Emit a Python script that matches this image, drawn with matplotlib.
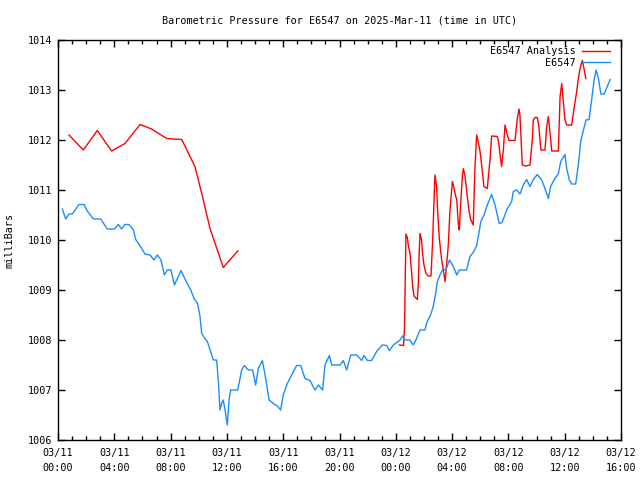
import matplotlib
matplotlib.use("Agg")
import matplotlib.pyplot as plt
from matplotlib.ticker import MultipleLocator

# Hours since 2025-03-11 00:00 UTC
obs_hours = [0.31, 0.55, 0.78, 1.02, 1.49, 1.85, 2.08, 2.51, 3.03, 3.5, 4.0, 4.29, 4.52, 4.76, 5.04,
             5.35, 5.52, 5.75, 6.18, 6.54, 6.82, 7.06, 7.32, 7.56, 7.77, 8.03, 8.27, 8.74, 9.02, 9.43,
             9.68, 9.92, 10.09, 10.21, 10.44, 10.61, 10.92, 11.04, 11.27, 11.39, 11.51, 11.63, 11.74,
             11.87, 12.03, 12.15, 12.27, 12.77, 12.93, 13.05, 13.24, 13.52, 13.83, 14.04, 14.23, 14.52,
             14.71, 15.0, 15.3, 15.58, 15.82, 16.0, 16.29, 16.6, 16.95, 17.24, 17.55, 17.9, 18.26, 18.5,
             18.8, 18.97, 19.28, 19.45, 20.04, 20.27, 20.51, 20.8, 21.22, 21.58, 21.74, 21.98, 22.28,
             22.64, 23.04, 23.35, 23.54, 23.83, 24.3, 24.48, 24.65, 25.0, 25.24, 25.48, 25.72, 26.07,
             26.23, 26.47, 26.66, 26.83, 26.95, 27.14, 27.33, 27.57, 27.81, 28.09, 28.33, 28.51, 29.03,
             29.27, 29.5, 29.74, 29.9, 30.04, 30.27, 30.5, 30.81, 31.05, 31.35, 31.55, 31.88, 32.23,
             32.35, 32.59, 32.82, 33.06, 33.3, 33.53, 33.77, 34.05, 34.37, 34.6, 34.84, 35.0, 35.24,
             35.55, 35.72, 36.02, 36.14, 36.33, 36.5, 36.78, 36.97, 37.14, 37.33, 37.52, 37.73, 37.88,
             38.09, 38.23, 38.4, 38.57, 38.8, 39.23]
obs_mb = [1010.62, 1010.42, 1010.52, 1010.52, 1010.71, 1010.71, 1010.58, 1010.42, 1010.42, 1010.22,
          1010.22, 1010.31, 1010.22, 1010.31, 1010.31, 1010.21, 1010.01, 1009.92, 1009.72, 1009.7,
          1009.6, 1009.7, 1009.6, 1009.3, 1009.4, 1009.4, 1009.1, 1009.39, 1009.22, 1009.0, 1008.82,
          1008.73, 1008.47, 1008.13, 1008.03, 1007.97, 1007.7, 1007.6, 1007.6, 1007.2, 1006.6, 1006.73,
          1006.8, 1006.6, 1006.3, 1006.8, 1007.0, 1007.0, 1007.23, 1007.4, 1007.49, 1007.4, 1007.4,
          1007.1, 1007.43, 1007.59, 1007.3, 1006.8, 1006.73, 1006.68, 1006.6, 1006.9, 1007.13, 1007.3,
          1007.49, 1007.49, 1007.23, 1007.19, 1007.0, 1007.1, 1007.0, 1007.5, 1007.69, 1007.5, 1007.5,
          1007.59, 1007.4, 1007.7, 1007.7, 1007.59, 1007.69, 1007.59, 1007.59, 1007.77, 1007.9,
          1007.89, 1007.79, 1007.9, 1008.0, 1008.08, 1008.0, 1008.0, 1007.9, 1008.03, 1008.2, 1008.2,
          1008.37, 1008.5, 1008.67, 1008.93, 1009.17, 1009.3, 1009.41, 1009.41, 1009.6, 1009.47,
          1009.3, 1009.4, 1009.4, 1009.67, 1009.75, 1009.88, 1010.13, 1010.37, 1010.5, 1010.7,
          1010.91, 1010.7, 1010.33, 1010.35, 1010.6, 1010.77, 1010.97, 1011.0, 1010.92, 1011.1,
          1011.21, 1011.07, 1011.21, 1011.31, 1011.2, 1011.03, 1010.83, 1011.07, 1011.2, 1011.33,
          1011.57, 1011.71, 1011.43, 1011.2, 1011.12, 1011.12, 1011.5, 1011.97, 1012.2, 1012.4,
          1012.41, 1012.73, 1013.2, 1013.4, 1013.23, 1012.92, 1012.92, 1013.21]

ana1_hours = [0.78, 1.8, 2.79, 3.81, 4.76, 5.83, 6.65, 7.72, 8.79, 9.73, 10.21, 10.8, 11.74, 12.77]
ana1_mb = [1012.1, 1011.8, 1012.19, 1011.78, 1011.93, 1012.31, 1012.22, 1012.03, 1012.01, 1011.47,
           1010.93, 1010.23, 1009.45, 1009.78]

ana2_hours = [24.26, 24.55, 24.62, 24.72, 24.82, 24.9, 25.01, 25.13, 25.2, 25.29, 25.53, 25.6, 25.66,
              25.72, 25.83, 25.91, 26.0, 26.15, 26.31, 26.5, 26.62, 26.71, 26.78, 26.9, 26.97, 27.09,
              27.26, 27.38, 27.5, 27.62, 27.73, 27.85, 28.02, 28.09, 28.21, 28.33, 28.44, 28.51, 28.61,
              28.73, 28.8, 28.92, 29.08, 29.22, 29.33, 29.5, 29.62, 29.74, 29.85, 29.97, 30.14, 30.26,
              30.5, 30.69, 30.81, 31.21, 31.3, 31.45, 31.52, 31.64, 31.76, 31.92, 32.05, 32.47, 32.62,
              32.75, 32.82, 32.9, 32.99, 33.25, 33.53, 33.7, 33.77, 33.89, 34.05, 34.15, 34.31, 34.6,
              34.72, 34.84, 34.96, 35.08, 35.55, 35.67, 35.79, 35.9, 36.02, 36.14, 36.5, 36.61, 36.85,
              36.97, 37.09, 37.25, 37.37, 37.5]
ana2_mb = [1007.9, 1007.89, 1008.25, 1010.12, 1010.05, 1009.87, 1009.73, 1009.33, 1009.07, 1008.88,
           1008.81, 1009.13, 1009.73, 1010.13, 1010.0, 1009.7, 1009.5, 1009.33, 1009.28, 1009.28,
           1010.0, 1010.74, 1011.3, 1011.07, 1010.6, 1010.03, 1009.6, 1009.4, 1009.17, 1009.53, 1009.9,
           1010.6, 1011.17, 1011.1, 1010.93, 1010.8, 1010.33, 1010.2, 1010.73, 1011.27, 1011.43,
           1011.27, 1010.87, 1010.55, 1010.4, 1010.3, 1011.4, 1012.1, 1011.97, 1011.8, 1011.4, 1011.07,
           1011.03, 1011.6, 1012.08, 1012.07, 1011.97, 1011.6, 1011.47, 1011.8, 1012.3, 1012.1, 1011.99,
           1011.99, 1012.4, 1012.62, 1012.5, 1012.03, 1011.5, 1011.48, 1011.5, 1012.0, 1012.4, 1012.45,
           1012.45, 1012.3, 1011.8, 1011.8, 1012.27, 1012.47, 1012.13, 1011.78, 1011.78, 1012.87,
           1013.13, 1012.77, 1012.4, 1012.3, 1012.3, 1012.53, 1012.97, 1013.23, 1013.43, 1013.59,
           1013.43, 1013.23]

tick_hours = [0, 4, 8, 12, 16, 20, 24, 28, 32, 36, 40]
tick_labels = ["03/11\n00:00", "03/11\n04:00", "03/11\n08:00", "03/11\n12:00", "03/11\n16:00",
               "03/11\n20:00", "03/12\n00:00", "03/12\n04:00", "03/12\n08:00", "03/12\n12:00",
               "03/12\n16:00"]

FONT = "DejaVu Sans Mono"
FS = 7.3
RED = "#ff0000"
BLUE = "#1a8cff"

fig = plt.figure(figsize=(6.4, 4.8), dpi=100)
ax = fig.add_axes([58/640, 40/480, (621-58)/640, 400/480])

ax.plot(ana1_hours, ana1_mb, color=RED, lw=1.0, label="E6547 Analysis")
ax.plot(ana2_hours, ana2_mb, color=RED, lw=1.0)
ax.plot(obs_hours, obs_mb, color=BLUE, lw=1.0, label="E6547")

ax.set_xlim(0, 40)
ax.set_ylim(1006, 1014)
ax.set_xticks(tick_hours)
ax.set_xticklabels(tick_labels, fontfamily=FONT, fontsize=FS, linespacing=1.55)
ax.xaxis.set_minor_locator(MultipleLocator(1))
ax.yaxis.set_major_locator(MultipleLocator(1))
for lab in ax.get_yticklabels():
    lab.set_fontfamily(FONT)
    lab.set_fontsize(FS)
ax.tick_params(which="both", direction="in", top=True, right=True, width=1.0)
ax.tick_params(which="major", length=5, pad=4)
ax.tick_params(axis="x", which="major", pad=6)
ax.tick_params(which="minor", length=3)
for s in ax.spines.values():
    s.set_linewidth(1.0)

ax.set_ylabel("milliBars", fontfamily=FONT, fontsize=FS, labelpad=10)
ax.set_title("Barometric Pressure for E6547 on 2025-Mar-11 (time in UTC)",
             fontfamily=FONT, fontsize=FS, pad=12)

leg = ax.legend(loc="upper right", bbox_to_anchor=(0.986, 0.992), frameon=False, markerfirst=False,
                prop={"family": FONT, "size": FS}, handlelength=2.8,
                borderaxespad=0.0, borderpad=0.3, labelspacing=0.15, handletextpad=0.6)

fig.savefig("out.png", dpi=100)
